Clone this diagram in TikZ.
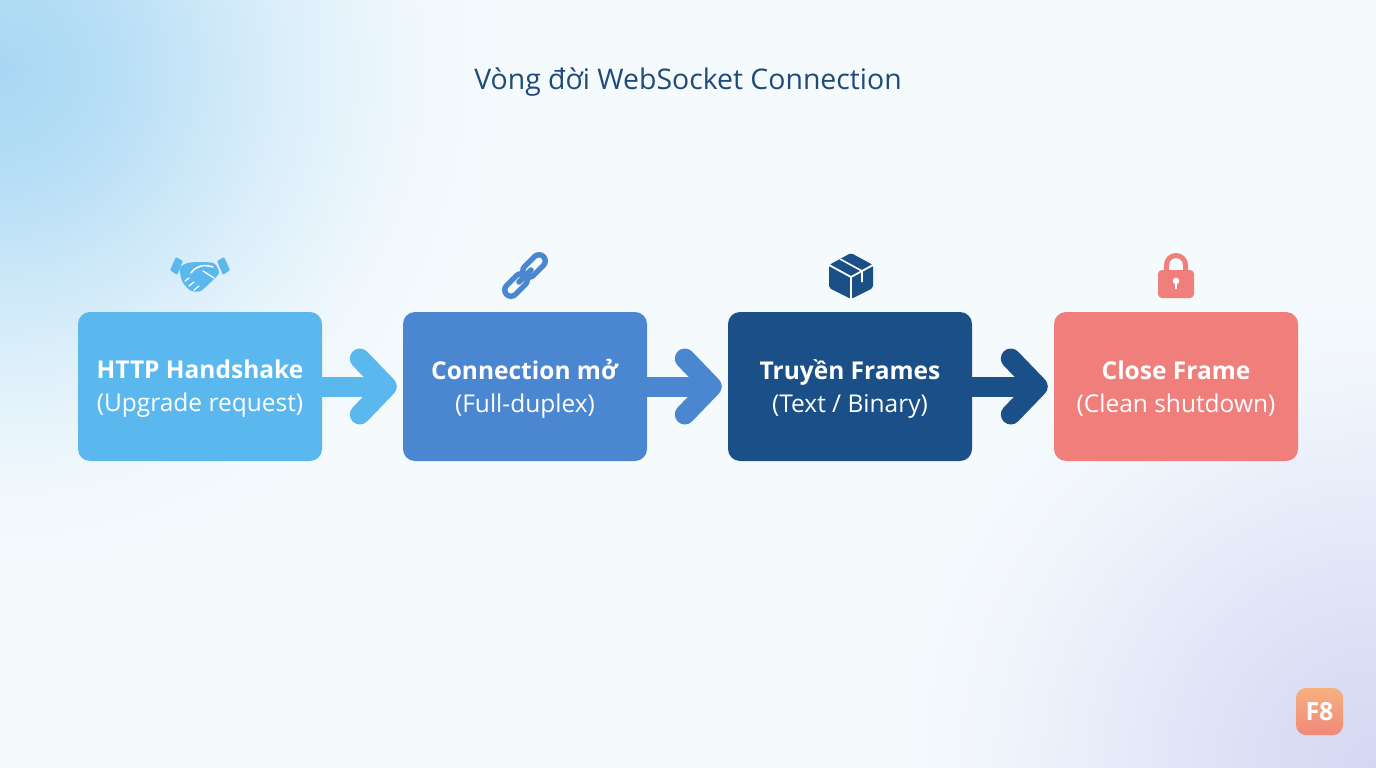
\documentclass[tikz,border=0pt]{standalone}
\usepackage{fontspec}
\setmainfont{Open Sans}
\definecolor{bg}{HTML}{F5FAFD}
\definecolor{glowblue}{HTML}{9ED3F3}
\definecolor{lavender}{HTML}{D4D5F3}
\definecolor{titlec}{HTML}{1F4B7A}
\definecolor{c1}{HTML}{5AB8EF}
\definecolor{c2}{HTML}{4A87D0}
\definecolor{c3}{HTML}{1B4F88}
\definecolor{c4}{HTML}{F07E7B}
\definecolor{logoA}{HTML}{F6B07E}
\definecolor{logoB}{HTML}{F0897B}
\pgfdeclareradialshading{glowtl}{\pgfpoint{0bp}{0bp}}{%
  color(0bp)=(glowblue!88!bg); color(100bp)=(glowblue!74!bg); color(200bp)=(glowblue!50!bg);
  color(300bp)=(glowblue!26!bg); color(400bp)=(glowblue!8!bg); color(500bp)=(bg)}
\pgfdeclareradialshading{glowbr}{\pgfpoint{0bp}{0bp}}{%
  color(0bp)=(lavender!95!bg); color(120bp)=(lavender!74!bg); color(250bp)=(lavender!44!bg);
  color(380bp)=(lavender!14!bg); color(480bp)=(bg)}
\begin{document}
\begin{tikzpicture}[x=1pt,y=-1pt,
  stagebox/.style={rounded corners=12pt, minimum width=244pt, minimum height=149pt, inner sep=0pt},
  boxtext/.style={align=center, text=white, inner sep=0pt, font=\fontsize{24.5}{33}\selectfont},
  shaft/.style={line width=20pt},
  chev/.style={line width=20pt, line cap=round, line join=round},
  ring/.style={line width=18pt, line cap=round},
  ringhole/.style={line width=7pt, line cap=round, bg}]
\useasboundingbox (0,0) rectangle (1376,768);
\begin{scope}
\clip (0,0) rectangle (1376,768);
\fill[bg] (0,0) rectangle (1376,768);
\node[inner sep=0pt] (glowA) at (0,70) {\pgfuseshading{glowtl}};
\node[inner sep=0pt] (glowB) at (1376,768) {\pgfuseshading{glowbr}};
\end{scope}

\node[text=titlec, font=\fontsize{28.4}{32}\selectfont] (title) at (688,82) {Vòng đời WebSocket Connection};

\node[stagebox, fill=c1] (b1) at (200,386.5) {};
\node[stagebox, fill=c2] (b2) at (525,386.5) {};
\node[stagebox, fill=c3] (b3) at (850,386.5) {};
\node[stagebox, fill=c4] (b4) at (1176,386.5) {};
\node[boxtext] (t1) at (200,388.5) {\textbf{HTTP Handshake}\\(Upgrade request)};
\node[boxtext] (t2) at (525,388.5) {\textbf{Connection mở}\\(Full-duplex)};
\node[boxtext] (t3) at (850,388.5) {\textbf{Truyền Frames}\\(Text / Binary)};
\node[boxtext] (t4) at (1176,388.5) {\textbf{Close Frame}\\(Clean shutdown)};

\foreach \a/\b/\c in {b1/b2/c1, b2/b3/c2, b3/b4/c3}{
  \draw[shaft, \c] (\a.east) -- ([xshift=-16pt]\b.west);
  \draw[chev, \c] ([xshift=-43pt, yshift=28pt]\b.west) -- ([xshift=-16pt]\b.west) -- ([xshift=-43pt, yshift=-28pt]\b.west);
}

% handshake icon
\begin{scope}[c1]
  \fill[rounded corners=1pt] (170,270) -- (176,257) -- (183,261) -- (177,275) -- cycle;
  \fill[rounded corners=1pt] (230,270) -- (224,257) -- (217,261) -- (223,275) -- cycle;
  \fill[rounded corners=3pt] (179,268) -- (186,263) -- (196,262) -- (206,262) -- (215,263)
     -- (220,273) -- (209,284) -- (200,292) -- (190,291) -- (182,282) -- cycle;
  \draw[white, line width=1.5pt, line cap=round] (191,273) .. controls (196,266) and (203,264) .. (213,267);
  \draw[white, line width=1.3pt, line cap=round] (203,271) -- (214,278);
  \draw[white, line width=1.3pt, line cap=round] (185,281) -- (189,278) (189,286) -- (194,282) (194,290) -- (199,286);
\end{scope}

% link icon
\begin{scope}
  \draw[ring, c2] (511,290) -- (521,280);
  \draw[ringhole] (511,290) -- (521,280);
  \draw[ring, c2] (529,271) -- (539,261);
  \draw[ringhole] (529,271) -- (539,261);
  \draw[c2, line width=5.5pt, line cap=round] (519,282) -- (531,270);
\end{scope}

% box icon
\begin{scope}
  \fill[c3, rounded corners=2pt] (851,253) -- (873,265) -- (873,288) -- (851,299) -- (829,288) -- (829,265) -- cycle;
  \draw[white, line width=1.8pt] (829,265) -- (851,277) -- (873,265) (851,277) -- (851,299);
  \draw[white, line width=1.6pt] (840,259) -- (862,271) -- (862,282);
\end{scope}

% lock icon
\begin{scope}
  \draw[c4, line width=5pt] (1166.5,272) -- (1166.5,265) arc (180:360:9.5) -- (1185.5,272);
  \fill[c4, rounded corners=4pt] (1158,270) rectangle (1194,298);
  \fill[white] (1176,281) circle (3.3);
  \fill[white] (1174.6,281) rectangle (1177.4,289);
\end{scope}

\shade[rounded corners=10pt, top color=logoA, bottom color=logoB] (1296,688) rectangle (1343,735);
\node[text=white, font=\bfseries\fontsize{25}{25}\selectfont] (logo) at (1319.5,712) {F8};
\end{tikzpicture}
\end{document}
